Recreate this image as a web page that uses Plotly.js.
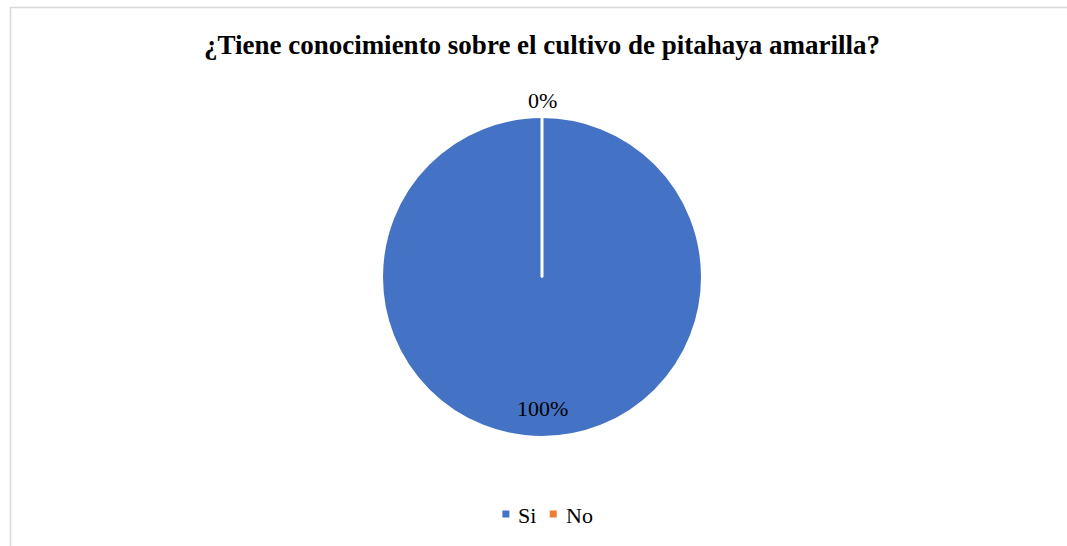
<!DOCTYPE html>
<html>
<head>
<meta charset="utf-8">
<script src="https://cdn.plot.ly/plotly-3.0.1.min.js"></script>
<style>html,body{margin:0;padding:0;background:#fff;}#chart{width:1067px;height:546px;}</style>
</head>
<body>
<div id="chart"></div>
<script>
const categories = ["Si", "No"];
const values = [100, 0];
const colors = ["#4472C4", "#ED7D31"];
const titleText = "¿Tiene conocimiento sobre el cultivo de pitahaya amarilla?";

const W = 1067, H = 546;
const cx = 542, cy = 277, R = 160;
const px = x => x / W;
const py = y => 1 - y / H;
const font = "Liberation Serif, Times New Roman, serif";

const total = values.reduce((a, b) => a + b, 0);
const pct = values.map(v => Math.round(v / total * 100) + "%");

// slice labels placed from slice geometry (clockwise from 12 o'clock)
const annotations = [];
let acc = 0;
values.forEach((v, i) => {
  const frac = v / total;
  const mid = (acc + frac / 2) * 2 * Math.PI;
  acc += frac;
  const inside = frac > 0.05;
  const r = inside ? R * 0.82 : R + 17;
  const x = cx + r * Math.sin(mid);
  const y = cy - r * Math.cos(mid);
  annotations.push({
    x: px(x), y: py(y), xref: "paper", yref: "paper",
    text: pct[i], showarrow: false,
    xanchor: "center", yanchor: "middle",
    font: {family: font, size: 22, color: "#000"}
  });
});

// legend (Excel style: small square close to the label)
const legFont = 22, legY = 515, sq = 7, sqGap = 7, itemGap = 15, legCenter = 546.5;
const ctx = document.createElement("canvas").getContext("2d");
ctx.font = legFont + "px " + font;
const tw = categories.map(c => ctx.measureText(c).width);
const totalW = tw.reduce((s, w) => s + sq + sqGap + w, 0) + itemGap * (categories.length - 1);
let lx = legCenter - totalW / 2;
const shapes = [
  {type: "rect", xref: "paper", yref: "paper", x0: px(10.5), x1: 1.05, y0: -0.05, y1: py(7.5),
   line: {color: "#d9d9d9", width: 1.5}, fillcolor: "rgba(0,0,0,0)", layer: "below"},
  {type: "line", xref: "paper", yref: "paper", x0: px(cx), y0: py(cy), x1: px(cx), y1: py(cy - R - 2),
   line: {color: "#fff", width: 3}}
];
categories.forEach((c, i) => {
  shapes.push({type: "rect", xref: "paper", yref: "paper",
    x0: px(lx), x1: px(lx + sq), y0: py(legY - 1 + sq / 2), y1: py(legY - 1 - sq / 2),
    line: {width: 0}, fillcolor: colors[i]});
  annotations.push({
    x: px(lx + sq + sqGap), y: py(legY), xref: "paper", yref: "paper",
    text: c, showarrow: false, xanchor: "left", yanchor: "middle",
    font: {family: font, size: legFont, color: "#000"}
  });
  lx += sq + sqGap + tw[i] + itemGap;
});

const traces = [{
  type: "pie",
  labels: categories,
  values: values,
  marker: {colors: colors, line: {color: "#fff", width: 2}},
  sort: false,
  direction: "clockwise",
  rotation: 0,
  textinfo: "none",
  hoverinfo: "label+percent",
  showlegend: false,
  domain: {x: [px(cx - R), px(cx + R)], y: [py(cy + R), py(cy - R)]}
}];

const layout = {
  width: W, height: H,
  margin: {l: 0, r: 0, t: 0, b: 0},
  paper_bgcolor: "#fff", plot_bgcolor: "rgba(0,0,0,0)",
  title: {
    text: "<b>" + titleText + "</b>",
    x: px(542), xanchor: "center", y: py(45), yanchor: "middle", yref: "container",
    font: {family: font, size: 27, color: "#000"}
  },
  showlegend: false,
  annotations: annotations,
  shapes: shapes
};

Plotly.newPlot("chart", traces, layout, {displayModeBar: false, staticPlot: true});
</script>
</body>
</html>
